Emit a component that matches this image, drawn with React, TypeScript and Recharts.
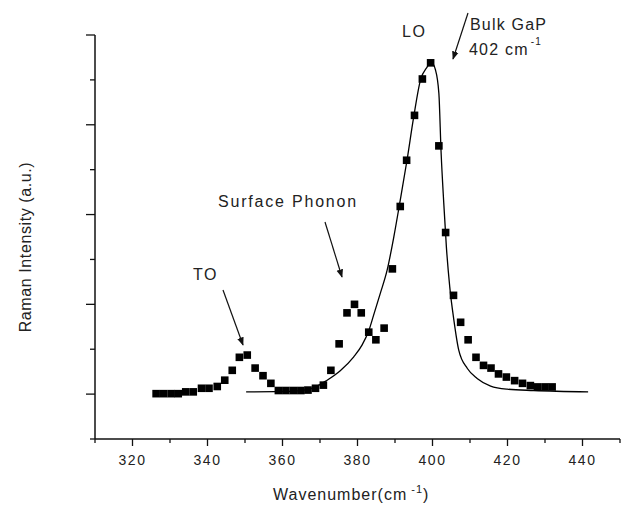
import React from "react";
import { ComposedChart, XAxis, YAxis, Scatter, Line } from "recharts";

// measured Raman spectrum (squares)
const measuredShift = [
  326.3, 328.3, 330.3, 332.2, 334.2, 336.2, 338.4, 340.4, 342.6, 344.6, 346.6,
  348.5, 350.6, 352.7, 354.8, 356.9, 358.9, 360.9, 362.9, 364.9, 366.8, 368.8,
  370.9, 372.9, 375.1, 377.2, 379.2, 381.0, 383.0, 384.9, 387.1, 389.3, 391.4,
  393.1, 395.2, 397.3, 399.5, 401.7, 403.5, 405.6, 407.5, 409.5, 411.6, 413.6,
  415.6, 417.6, 419.7, 421.9, 424.0, 426.1, 428.0, 430.0, 431.9,
];
const measuredIntensity = [
  1.01, 1.01, 1.01, 1.01, 1.05, 1.05, 1.13, 1.13, 1.17, 1.31, 1.53, 1.82, 1.87,
  1.58, 1.41, 1.24, 1.08, 1.08, 1.08, 1.08, 1.09, 1.13, 1.2, 1.53, 2.12, 2.81,
  3.0, 2.81, 2.38, 2.21, 2.47, 3.79, 5.18, 6.21, 7.21, 8.02, 8.38, 6.53, 4.6,
  3.2, 2.6, 2.21, 1.82, 1.64, 1.58, 1.45, 1.38, 1.3, 1.24, 1.19, 1.16, 1.16,
  1.16,
];

// fitted curve (solid line)
const fitShift = [
  350.3, 362.1, 367.9, 371.9, 375.4, 379.0, 381.2, 383.0, 384.3, 386.1, 387.9,
  389.7, 391.4, 393.2, 395.0, 396.8, 398.6, 399.6, 400.8, 401.7, 402.3, 403.0,
  403.7, 404.6, 405.7, 407.0, 409.3, 411.9, 415.5, 419.9, 427.0, 441.5,
];
const fitIntensity = [
  1.05, 1.06, 1.13, 1.31, 1.52, 1.83, 2.09, 2.41, 2.76, 3.25, 3.76, 4.51, 5.32,
  6.21, 7.18, 8.0, 8.29, 8.4, 8.22, 7.7, 6.37, 5.26, 4.28, 3.39, 2.65, 1.98,
  1.57, 1.35, 1.18, 1.11, 1.08, 1.05,
];

const xTicks = [310, 320, 330, 340, 350, 360, 370, 380, 390, 400, 410, 420, 430, 440, 450];
const yTicks = [0, 1, 2, 3, 4, 5, 6, 7, 8, 9];

const measured = measuredShift.map((x, i) => ({ x, y: measuredIntensity[i] }));
const fit = fitShift.map((x, i) => ({ x, y: fitIntensity[i] }));

const FONT = '"Liberation Sans", Arial, sans-serif';
const INK = "#111";

function XTick({ x, y, payload }: any) {
  const major = payload.value % 20 === 0;
  return (
    <g>
      <line x1={x} x2={x} y1={y} y2={y + (major ? 7 : 4)} stroke={INK} strokeWidth={1.3} />
      {major && (
        <text
          x={x}
          y={y + 26}
          textAnchor="middle"
          fontFamily={FONT}
          fontSize={14}
          letterSpacing={1.5}
          fill="#222"
        >
          {payload.value}
        </text>
      )}
    </g>
  );
}

function YTick({ x, y, payload }: any) {
  const len = payload.value % 2 === 1 ? 9 : 5;
  return <line x1={x - len} x2={x} y1={y} y2={y} stroke={INK} strokeWidth={1.3} />;
}

function Square({ cx, cy }: any) {
  if (cx == null || cy == null) return null;
  return <rect x={cx - 3.8} y={cy - 3.8} width={7.6} height={7.6} fill="#000" />;
}

const textStyle = { fontFamily: FONT, fill: "#222" };

export default function App() {
  return (
    <div style={{ position: "absolute", left: 0, top: 0, width: 622, height: 508, background: "#fff" }}>
      <ComposedChart width={622} height={508} margin={{ top: 35, right: 2, bottom: 0, left: 0 }}>
        <XAxis
          type="number"
          dataKey="x"
          domain={[310, 450]}
          ticks={xTicks}
          interval={0}
          allowDataOverflow
          height={69}
          tickSize={0}
          tickMargin={0}
          tick={<XTick />}
          axisLine={{ stroke: INK, strokeWidth: 1.5 }}
        />
        <YAxis
          type="number"
          dataKey="y"
          domain={[0, 9]}
          ticks={yTicks}
          interval={0}
          width={95}
          tickSize={0}
          tickMargin={0}
          tick={<YTick />}
          axisLine={{ stroke: INK, strokeWidth: 1.5 }}
        />
        <Line
          data={fit}
          dataKey="y"
          type="monotone"
          stroke="#000"
          strokeWidth={1.3}
          dot={false}
          activeDot={false}
          isAnimationActive={false}
        />
        <Scatter data={measured} dataKey="y" fill="#000" shape={<Square />} isAnimationActive={false} />
      </ComposedChart>

      <svg
        width={622}
        height={508}
        style={{ position: "absolute", left: 0, top: 0, pointerEvents: "none" }}
      >
        <defs>
          <marker id="head" viewBox="0 0 10 10" refX="9" refY="5" markerWidth="7" markerHeight="7" orient="auto">
            <path d="M0,1 L10,5 L0,9 z" fill="#111" />
          </marker>
        </defs>

        <text
          transform="translate(25,247) rotate(-90)"
          textAnchor="middle"
          dominantBaseline="central"
          fontSize={16}
          letterSpacing={0.6}
          {...textStyle}
        >
          Raman Intensity (a.u.)
        </text>

        <text x={273} y={500} fontSize={16} letterSpacing={1} {...textStyle}>
          Wavenumber(cm
          <tspan dx={4} dy={-7} fontSize={11}>-1</tspan>
          <tspan dy={7}>)</tspan>
        </text>

        <text x={193} y={280} fontSize={16} letterSpacing={1.5} {...textStyle}>TO</text>
        <line x1={223} y1={290} x2={243} y2={345} stroke="#111" strokeWidth={1.2} markerEnd="url(#head)" />

        <text x={218} y={207} fontSize={16} letterSpacing={1.8} {...textStyle}>Surface Phonon</text>
        <line x1={325} y1={222} x2={342} y2={277} stroke="#111" strokeWidth={1.2} markerEnd="url(#head)" />

        <text x={402} y={37} fontSize={16} letterSpacing={1.5} {...textStyle}>LO</text>

        <text x={470} y={30} fontSize={16} letterSpacing={1.2} {...textStyle}>Bulk GaP</text>
        <text x={469} y={55} fontSize={16} letterSpacing={1.2} {...textStyle}>
          402 cm
          <tspan dx={2} dy={-10} fontSize={10}>-1</tspan>
        </text>
        <line x1={468} y1={13} x2={453} y2={59} stroke="#111" strokeWidth={1.2} markerEnd="url(#head)" />
      </svg>
    </div>
  );
}
